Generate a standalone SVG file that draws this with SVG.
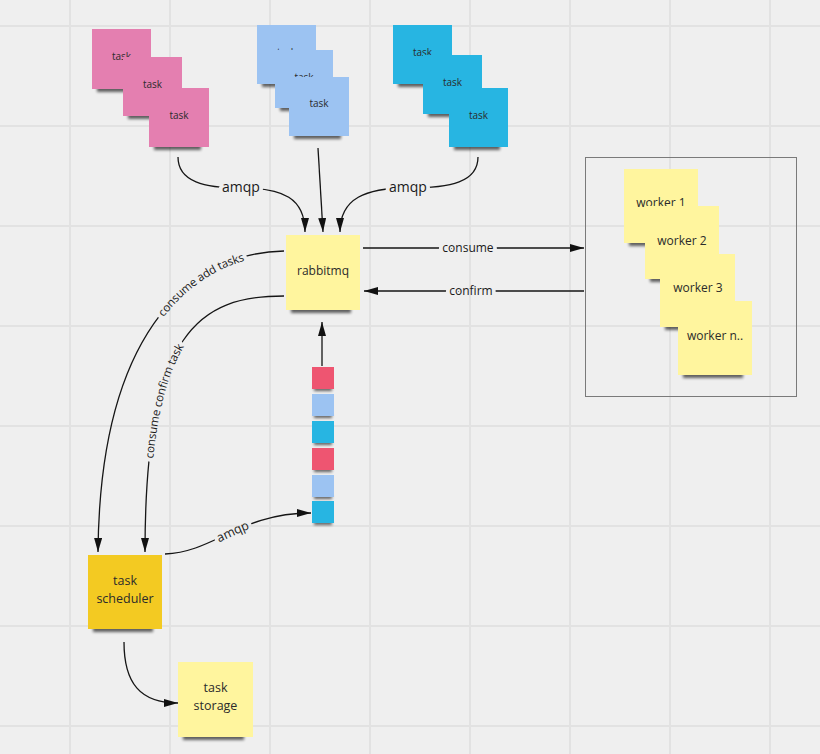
<svg xmlns="http://www.w3.org/2000/svg" xmlns:xlink="http://www.w3.org/1999/xlink" width="820" height="754" viewBox="0 0 820 754">
<style>
.grid line{stroke:#e2e2e2;stroke-width:2}
.pink{fill:#e47fb0}
.blue{fill:#9cc3f2}
.cyan{fill:#27b5e2}
.yel{fill:#fff59e}
.gold{fill:#f3ca22}
.red{fill:#ee5571}
.sh{fill:#000;opacity:.6;filter:url(#blur)}
.nt{font-family:"Open Sans","Liberation Sans",sans-serif;fill:#2b2b2b;text-anchor:middle}
.t10{font-size:10px}
.t12{font-size:12px}
.t13{font-size:12.5px}
.conn path{fill:none;stroke:#151515;stroke-width:1.3}
.lbl{font-family:"Open Sans","Liberation Sans",sans-serif;fill:#1a1a1a;text-anchor:middle}
.halo{fill:#000;stroke:#000;stroke-width:8;stroke-linejoin:round}
.box{fill:none;stroke:#7a7a7a;stroke-width:1}
</style>
<defs>
<filter id="blur" x="-20%" y="-100%" width="140%" height="300%"><feGaussianBlur stdDeviation="1.8"/></filter>
<marker id="ah" markerWidth="14" markerHeight="8" refX="14" refY="4" orient="auto" markerUnits="userSpaceOnUse"><path d="M0,0 L14,4 L0,8 z" fill="#111"/></marker>
<path id="pAdd" d="M98,552 C100,320 200,252 284,251"/>
<path id="pConf" d="M145,552 C145,330 200,296 284,296"/>
<path id="pAmqp" d="M165,554 C215,552 240,513 311,513"/>
<mask id="lblMask" maskUnits="userSpaceOnUse" x="0" y="0" width="820" height="754">
<rect x="0" y="0" width="820" height="754" fill="#fff"/>
<g class="lbl halo">
<text x="241" y="192" font-size="14">amqp</text>
<text x="408" y="192" font-size="14">amqp</text>
<text x="468" y="252" font-size="12">consume</text>
<text x="471" y="295" font-size="12">confirm</text>
<text font-size="11.5" dy="4"><textPath href="#pAdd" startOffset="76.5%">consume add tasks</textPath></text>
<text font-size="11.5" dy="4"><textPath href="#pConf" startOffset="46%">consume confirm task</textPath></text>
<text font-size="12.5" dy="4"><textPath href="#pAmqp" startOffset="47%">amqp</textPath></text>
</g>
</mask>
</defs>
<rect x="0" y="0" width="820" height="754" fill="#efefef"/>
<g class="grid">
<line x1="70" y1="0" x2="70" y2="754"/><line x1="170" y1="0" x2="170" y2="754"/><line x1="270" y1="0" x2="270" y2="754"/><line x1="370" y1="0" x2="370" y2="754"/><line x1="470" y1="0" x2="470" y2="754"/><line x1="570" y1="0" x2="570" y2="754"/><line x1="670" y1="0" x2="670" y2="754"/><line x1="770" y1="0" x2="770" y2="754"/>
<line x1="0" y1="26" x2="820" y2="26"/><line x1="0" y1="126" x2="820" y2="126"/><line x1="0" y1="226" x2="820" y2="226"/><line x1="0" y1="326" x2="820" y2="326"/><line x1="0" y1="426" x2="820" y2="426"/><line x1="0" y1="526" x2="820" y2="526"/><line x1="0" y1="626" x2="820" y2="626"/><line x1="0" y1="726" x2="820" y2="726"/>
</g>

<g id="pink-task-1"><rect class="sh" x="97" y="85" width="46" height="7"/><rect class="pink" x="92" y="29" width="59" height="60"/><text class="nt t10" x="121.5" y="60">task</text></g>
<g id="pink-task-2"><rect class="sh" x="128" y="112" width="46" height="7"/><rect class="pink" x="123" y="57" width="59" height="59"/><text class="nt t10" x="152.5" y="88">task</text></g>
<g id="pink-task-3"><rect class="sh" x="154" y="143" width="47" height="7"/><rect class="pink" x="149" y="88" width="60" height="59"/><text class="nt t10" x="179" y="119">task</text></g>

<g id="blue-task-1"><rect class="sh" x="262" y="80" width="46" height="7"/><rect class="blue" x="257" y="25" width="59" height="59"/><text class="nt t10" x="286.5" y="56">task</text></g>
<g id="blue-task-2"><rect class="sh" x="280" y="104" width="45" height="7"/><rect class="blue" x="275" y="50" width="58" height="58"/><text class="nt t10" x="304" y="81">task</text></g>
<g id="blue-task-3"><rect class="sh" x="294" y="132" width="47" height="7"/><rect class="blue" x="289" y="77" width="60" height="59"/><text class="nt t10" x="319" y="107">task</text></g>

<g id="cyan-task-1"><rect class="sh" x="398" y="80" width="46" height="7"/><rect class="cyan" x="393" y="25" width="59" height="59"/><text class="nt t10" x="422.5" y="56">task</text></g>
<g id="cyan-task-2"><rect class="sh" x="428" y="110" width="46" height="7"/><rect class="cyan" x="423" y="55" width="59" height="59"/><text class="nt t10" x="452.5" y="86">task</text></g>
<g id="cyan-task-3"><rect class="sh" x="454" y="143" width="46" height="7"/><rect class="cyan" x="449" y="88" width="59" height="59"/><text class="nt t10" x="478.5" y="119">task</text></g>

<g id="rabbitmq"><rect class="sh" x="291" y="306" width="60" height="7"/><rect class="yel" x="286" y="235" width="74" height="75"/><text class="nt t12" x="323" y="275">rabbitmq</text></g>

<g id="workers">
<rect class="box" x="585.5" y="157.5" width="211" height="239"/>
<g id="worker-1"><rect class="sh" x="629" y="239" width="60" height="7"/><rect class="yel" x="624" y="169" width="74" height="74"/><text class="nt t12" x="661" y="207">worker 1</text></g>
<g id="worker-2"><rect class="sh" x="650" y="275" width="60" height="7"/><rect class="yel" x="645" y="206" width="74" height="73"/><text class="nt t12" x="682" y="245">worker 2</text></g>
<g id="worker-3"><rect class="sh" x="665" y="323" width="61" height="7"/><rect class="yel" x="660" y="254" width="75" height="73"/><text class="nt t12" x="698" y="292">worker 3</text></g>
<g id="worker-n"><rect class="sh" x="683" y="371" width="60" height="7"/><rect class="yel" x="678" y="301" width="74" height="74"/><text class="nt t12" x="715" y="340">worker n..</text></g>
</g>

<g id="queue">
<rect class="sh" x="314" y="387" width="18" height="4"/><rect class="red" x="312" y="367" width="22" height="22"/>
<rect class="sh" x="314" y="414" width="18" height="4"/><rect class="blue" x="312" y="394" width="22" height="22"/>
<rect class="sh" x="314" y="441" width="18" height="4"/><rect class="cyan" x="312" y="421" width="22" height="22"/>
<rect class="sh" x="314" y="468" width="18" height="4"/><rect class="red" x="312" y="448" width="22" height="22"/>
<rect class="sh" x="314" y="495" width="18" height="4"/><rect class="blue" x="312" y="475" width="22" height="22"/>
<rect class="sh" x="314" y="521" width="18" height="4"/><rect class="cyan" x="312" y="501" width="22" height="22"/>
</g>

<g id="task-scheduler"><rect class="sh" x="93" y="625" width="60" height="7"/><rect class="gold" x="88" y="555" width="74" height="74"/><text class="nt t13" x="125" y="585">task</text><text class="nt t13" x="125" y="603">scheduler</text></g>

<g id="task-storage"><rect class="sh" x="183" y="733" width="61" height="7"/><rect class="yel" x="178" y="662" width="75" height="75"/><text class="nt t13" x="215.5" y="692">task</text><text class="nt t13" x="215.5" y="710">storage</text></g>

<g id="connectors">
<g class="conn" mask="url(#lblMask)">
<path d="M178,157 C178,182 205,188 241,188 C283,188 305,198 305,232" marker-end="url(#ah)"/>
<path d="M318,148 L323,232" marker-end="url(#ah)"/>
<path d="M478,157 C478,182 451,188 408,188 C366,188 340,198 340,232" marker-end="url(#ah)"/>
<path d="M363,248 L584,248" marker-end="url(#ah)"/>
<path d="M584,291 L364,291" marker-end="url(#ah)"/>
<path d="M284,251 C200,252 100,320 98,552" marker-end="url(#ah)"/>
<path d="M284,296 C200,296 145,330 145,552" marker-end="url(#ah)"/>
<path d="M322,366 L322,322" marker-end="url(#ah)"/>
<path d="M165,554 C215,552 240,513 311,513" marker-end="url(#ah)"/>
<path d="M124,642 C124,683 140,703 178,703" marker-end="url(#ah)"/>
</g>
<g class="lbl">
<text x="241" y="192" font-size="14">amqp</text>
<text x="408" y="192" font-size="14">amqp</text>
<text x="468" y="252" font-size="12">consume</text>
<text x="471" y="295" font-size="12">confirm</text>
<text font-size="11.5" dy="4"><textPath href="#pAdd" startOffset="76.5%">consume add tasks</textPath></text>
<text font-size="11.5" dy="4"><textPath href="#pConf" startOffset="46%">consume confirm task</textPath></text>
<text font-size="12.5" dy="4"><textPath href="#pAmqp" startOffset="47%">amqp</textPath></text>
</g>
</g>
</svg>
